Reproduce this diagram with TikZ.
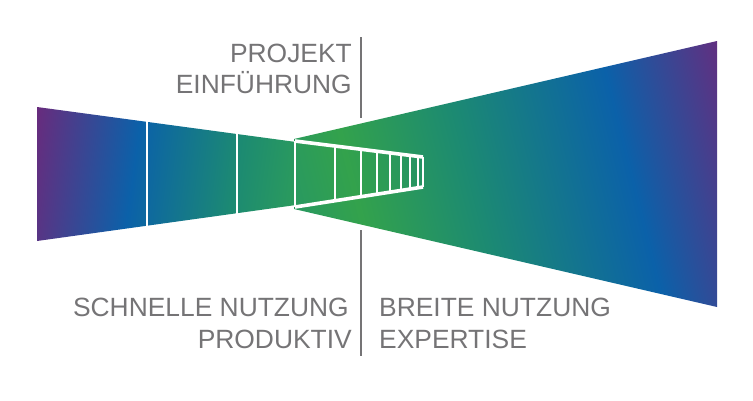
\documentclass[tikz,border=0pt]{standalone}
\usepackage{fontspec}
\usetikzlibrary{calc}
\setmainfont{Liberation Sans}
\definecolor{txtgray}{HTML}{757476}
\definecolor{wpurple}{HTML}{6A2A7C}
\definecolor{wblue}{HTML}{0B61A9}
\definecolor{wgreen}{HTML}{33A24C}
\definecolor{wmint}{HTML}{2A9A5E}
\definecolor{wteal}{HTML}{1C8A72}
% 25bp..75bp of each shading spans x = -123..877, so bp = 31.15 + 0.05 x
\pgfdeclarehorizontalshading{leftshade}{100bp}{
  color(0bp)=(wpurple); color(32.55bp)=(wpurple);
  color(37.9bp)=(wblue);
  color(43bp)=(wteal);
  color(45.9bp)=(wmint); color(100bp)=(wmint)}
\pgfdeclarehorizontalshading{rightshade}{100bp}{
  color(0bp)=(wmint); color(45.9bp)=(wmint);
  color(48.65bp)=(wgreen);
  color(54.4bp)=(wteal);
  color(62.25bp)=(wblue);
  color(68.65bp)=(wpurple); color(100bp)=(wpurple)}
\tikzset{
  label text/.style={font=\fontsize{26.4}{31}\selectfont, text=txtgray, inner sep=0pt},
  divider/.style={draw=txtgray, line width=2.2pt},
  frame line/.style={draw=white, line width=2.6pt},
  thin cut/.style={draw=white, line width=2.6pt},
}
\begin{document}
\begin{tikzpicture}[x=1pt,y=-1pt]
\useasboundingbox (0,0) rectangle (753,400);
% wedges
\begin{scope}
  \clip (37,107) -- (296,142) -- (296,205) -- (37,241) -- cycle;
  \begin{scope}[transform canvas={rotate around={-8:(330,174)}}]
    \shade[shading=leftshade] (-123,-300) rectangle (877,700);
  \end{scope}
\end{scope}
\begin{scope}
  \clip (294,139) -- (717,41) -- (717,307) -- (294,209) -- cycle;
  \begin{scope}[transform canvas={rotate around={14:(330,174)}}]
    \shade[shading=rightshade] (-123,-300) rectangle (877,700);
  \end{scope}
\end{scope}
% coordinates
\coordinate (dividerTopA) at (361,37);
\coordinate (dividerTopB) at (361,118);
\coordinate (dividerBotA) at (361,230);
\coordinate (dividerBotB) at (361,356);
\draw[divider] (dividerTopA) -- (dividerTopB);
\draw[divider] (dividerBotA) -- (dividerBotB);
% left cuts
\coordinate (c1a) at (147,121); \coordinate (c1b) at (147,226);
\coordinate (c2a) at (237,133); \coordinate (c2b) at (237,214);
\draw[thin cut] (c1a) -- (c1b);
\draw[thin cut] (c2a) -- (c2b);
% frame
\coordinate (fTL) at (295,141); \coordinate (fTR) at (423,157);
\coordinate (fBR) at (423,187); \coordinate (fBL) at (295,207);
\draw[frame line, line width=3.6pt] (fTL) -- (fTR);
\draw[frame line, line width=3.6pt] (fBL) -- (fBR);
\draw[frame line] (fTR) -- (fBR);
\draw[frame line] (fTL) -- (fBL);
\foreach \x in {335,361,377,390,401,410,418}{
  \draw[frame line] ($(fTL)!{(\x-295)/128}!(fTR)$) -- ($(fBL)!{(\x-295)/128}!(fBR)$);
}
% labels
\node[label text, anchor=base east] (l1) at (352,62) {PROJEKT};
\node[label text, anchor=base east] (l2) at (352,93) {EINFÜHRUNG};
\node[label text, anchor=base east] (l3) at (349,316) {SCHNELLE NUTZUNG};
\node[label text, anchor=base east] (l4) at (352,348) {PRODUKTIV};
\node[label text, anchor=base west] (l5) at (379,316) {BREITE NUTZUNG};
\node[label text, anchor=base west] (l6) at (379,348) {EXPERTISE};
\end{tikzpicture}
\end{document}
